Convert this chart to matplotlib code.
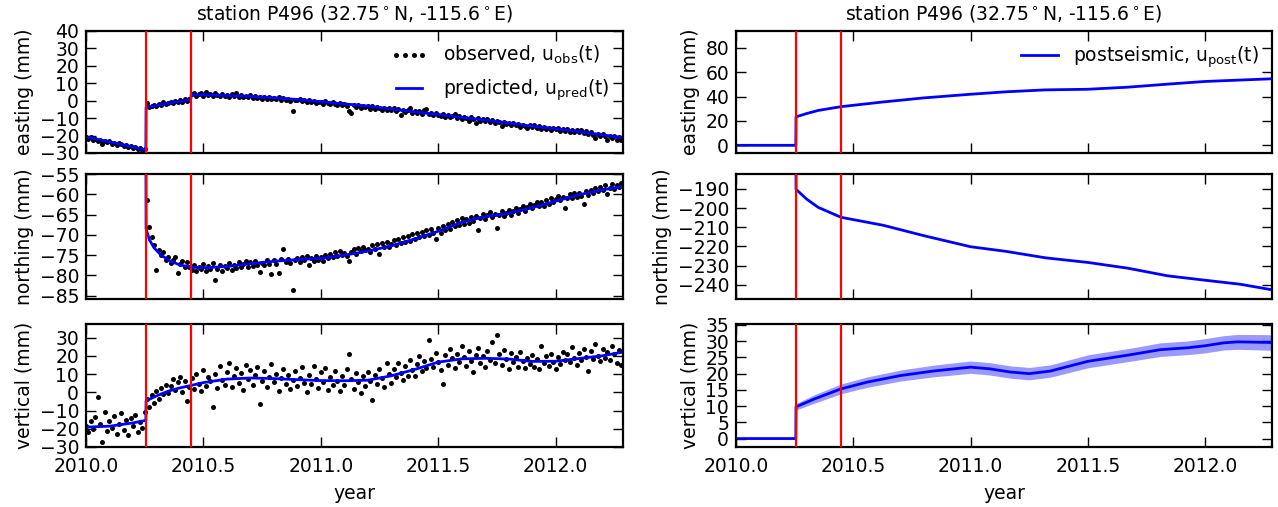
import matplotlib
matplotlib.use("Agg")
import matplotlib.pyplot as plt
import numpy as np
from matplotlib.ticker import FormatStrFormatter

# ---- style (old matplotlib look) ----
plt.rcParams.update({
    "font.family": "DejaVu Sans",
    "font.size": 13.5,
    "axes.linewidth": 1.6,
    "xtick.direction": "in",
    "ytick.direction": "in",
    "xtick.top": True,
    "ytick.right": True,
    "xtick.major.size": 7,
    "ytick.major.size": 7,
    "xtick.major.width": 1.0,
    "ytick.major.width": 1.0,
    "xtick.major.pad": 7,
    "ytick.major.pad": 5,
})

TITLE = r"station P496 (32.75$^\circ$N, -115.6$^\circ$E)"
EVENTS = [2010.255, 2010.448]
XLIM = (2010.0, 2012.285)

# ---- observed epochs (shared by the three components) ----
t_obs = [
    2010.00, 2010.01, 2010.02, 2010.03, 2010.04, 2010.05, 2010.06, 2010.07, 2010.08, 2010.09,
    2010.10, 2010.11, 2010.12, 2010.13, 2010.14, 2010.15, 2010.16, 2010.17, 2010.18, 2010.19,
    2010.20, 2010.21, 2010.22, 2010.23, 2010.24, 2010.25, 2010.26, 2010.27, 2010.28, 2010.29,
    2010.30, 2010.31, 2010.32, 2010.33, 2010.34, 2010.35, 2010.36, 2010.37, 2010.38, 2010.39,
    2010.40, 2010.41, 2010.42, 2010.43, 2010.44, 2010.45, 2010.46, 2010.47, 2010.48, 2010.49,
    2010.50, 2010.51, 2010.52, 2010.53, 2010.54, 2010.55, 2010.56, 2010.57, 2010.58, 2010.59,
    2010.60, 2010.61, 2010.62, 2010.63, 2010.64, 2010.65, 2010.66, 2010.67, 2010.68, 2010.69,
    2010.70, 2010.71, 2010.72, 2010.73, 2010.74, 2010.75, 2010.76, 2010.77, 2010.78, 2010.79,
    2010.80, 2010.81, 2010.82, 2010.83, 2010.84, 2010.85, 2010.86, 2010.87, 2010.88, 2010.89,
    2010.90, 2010.91, 2010.92, 2010.93, 2010.94, 2010.95, 2010.96, 2010.97, 2010.98, 2010.99,
    2011.00, 2011.01, 2011.02, 2011.03, 2011.04, 2011.05, 2011.06, 2011.07, 2011.08, 2011.09,
    2011.10, 2011.11, 2011.12, 2011.13, 2011.14, 2011.15, 2011.16, 2011.17, 2011.18, 2011.19,
    2011.20, 2011.21, 2011.22, 2011.23, 2011.24, 2011.25, 2011.26, 2011.27, 2011.28, 2011.29,
    2011.30, 2011.31, 2011.32, 2011.33, 2011.34, 2011.35, 2011.36, 2011.37, 2011.38, 2011.39,
    2011.40, 2011.41, 2011.42, 2011.43, 2011.44, 2011.45, 2011.46, 2011.47, 2011.48, 2011.49,
    2011.50, 2011.51, 2011.52, 2011.53, 2011.54, 2011.55, 2011.56, 2011.57, 2011.58, 2011.59,
    2011.60, 2011.61, 2011.62, 2011.63, 2011.64, 2011.65, 2011.66, 2011.67, 2011.68, 2011.69,
    2011.70, 2011.71, 2011.72, 2011.73, 2011.74, 2011.75, 2011.76, 2011.77, 2011.78, 2011.79,
    2011.80, 2011.81, 2011.82, 2011.83, 2011.84, 2011.85, 2011.86, 2011.87, 2011.88, 2011.89,
    2011.90, 2011.91, 2011.92, 2011.93, 2011.94, 2011.95, 2011.96, 2011.97, 2011.98, 2011.99,
    2012.00, 2012.01, 2012.02, 2012.03, 2012.04, 2012.05, 2012.06, 2012.07, 2012.08, 2012.09,
    2012.10, 2012.11, 2012.12, 2012.13, 2012.14, 2012.15, 2012.16, 2012.17, 2012.18, 2012.19,
    2012.20, 2012.21, 2012.22, 2012.23, 2012.24, 2012.25, 2012.26, 2012.27, 2012.28,
]

east_obs = [
    -21.0, -21.8, -20.9, -22.5, -22.0, -23.4, -22.3, -24.9, -23.0, -23.9,
    -23.2, -24.6, -24.0, -25.4, -24.3, -25.0, -26.1, -25.2, -26.6, -26.0,
    -27.1, -26.4, -27.6, -27.0, -28.4, -27.8, -1.2, -3.5, -3.0, -2.2,
    -2.9, -1.6, -2.4, -1.0, -1.9, -1.2, -0.5, -1.4, -0.2, -0.9,
    0.3, -0.6, 0.8, 0.1, 1.2, 3.9, 4.6, 2.8, 3.6, 4.2,
    2.9, 4.8, 3.1, 3.9, 2.6, 4.4, 3.3, 2.5, 3.8, 2.9,
    3.5, 2.2, 3.9, 2.7, 4.5, 2.3, 3.1, 1.9, 2.8, 2.0,
    3.0, 1.8, 2.6, 1.5, 2.3, 1.2, 2.0, 0.9, 1.9, 1.1,
    1.6, 0.8, 2.1, 0.5, 1.4, 0.3, 1.0, -0.1, -5.8, 0.6,
    0.2, 1.1, -0.4, 0.5, -0.7, 0.3, -1.0, -0.2, -1.3, -0.5,
    -0.9, -1.7, -0.3, -1.4, -2.0, -0.8, -1.9, -2.6, -1.2, -2.3,
    -1.6, -3.0, -5.9, -7.0, -2.2, -3.4, -2.5, -4.1, -2.9, -3.6,
    -3.0, -4.5, -3.3, -5.0, -3.8, -4.4, -5.6, -3.9, -5.1, -4.3,
    -5.4, -4.2, -6.0, -4.8, -8.3, -5.2, -6.4, -5.5, -3.9, -6.8,
    -5.9, -7.2, -6.1, -7.5, -5.6, -4.8, -7.8, -6.9, -8.4, -7.3,
    -8.0, -8.9, -7.4, -9.2, -8.1, -9.6, -8.5, -7.6, -9.9, -8.8,
    -10.3, -9.1, -10.0, -11.4, -9.6, -10.7, -12.6, -10.2, -11.5, -10.6,
    -11.8, -10.5, -12.2, -11.0, -13.0, -11.7, -12.4, -14.6, -12.1, -13.3,
    -12.6, -13.9, -12.9, -14.2, -13.3, -15.0, -13.7, -14.5, -15.6, -14.0,
    -15.3, -14.1, -15.9, -14.6, -16.2, -15.0, -16.4, -15.4, -17.0, -15.7,
    -16.5, -15.4, -17.1, -16.0, -17.4, -16.3, -17.8, -16.7, -18.2, -17.0,
    -18.0, -16.9, -18.7, -17.6, -19.1, -18.0, -19.4, -21.6, -19.3, -20.2,
    -19.0, -20.5, -22.5, -20.1, -21.2, -20.3, -22.4, -21.0, -22.6,
]

# northing is only visible after the earthquake (starts at 2010.26)
north_obs = [
    -61.5, -68.0, -70.6, -72.4,
    -78.6, -73.8, -75.0, -74.3, -76.2, -75.5, -77.0, -76.1, -75.4, -79.5,
    -77.2, -76.4, -78.0, -76.8, -77.9, -78.6, -77.3, -79.0, -77.8, -78.4,
    -77.2, -78.9, -77.6, -78.3, -77.0, -81.2, -78.5, -77.4, -78.8, -77.6,
    -78.2, -76.9, -78.6, -77.5, -78.1, -76.8, -78.0, -77.2, -76.5, -77.8,
    -76.7, -77.6, -76.4, -77.3, -79.2, -76.9, -77.5, -76.2, -77.1, -79.6,
    -76.3, -77.2, -79.3, -76.0, -73.6, -76.8, -75.9, -77.0, -83.7, -76.2,
    -75.7, -76.6, -75.4, -76.3, -75.1, -77.4, -75.8, -76.5, -75.3, -76.1,
    -75.5, -76.4, -74.9, -75.8, -74.6, -75.5, -74.3, -75.2, -74.0, -74.9,
    -74.4, -75.3, -76.4, -74.1, -73.5, -74.6, -73.2, -74.0, -72.9, -73.8,
    -73.4, -74.3, -72.6, -73.5, -72.3, -74.6, -72.0, -72.9, -71.7, -73.0,
    -72.2, -71.3, -72.6, -71.0, -71.9, -70.6, -71.7, -70.3, -71.4, -69.8,
    -70.9, -69.6, -70.5, -69.2, -70.3, -68.8, -70.0, -68.5, -69.6, -71.0,
    -68.4, -69.5, -67.8, -68.9, -67.3, -68.6, -66.9, -67.9, -66.4, -67.5,
    -65.9, -67.2, -66.0, -67.0, -65.6, -66.5, -65.3, -68.7, -65.8, -64.9,
    -66.1, -65.2, -64.4, -65.6, -64.8, -68.3, -65.0, -64.1, -65.3, -64.5,
    -63.9, -65.0, -64.2, -63.4, -64.6, -63.6, -62.9, -64.0, -63.1, -62.4,
    -63.5, -62.6, -61.8, -62.9, -61.9, -62.8, -61.4, -62.3, -61.0, -62.0,
    -61.2, -60.4, -61.5, -60.6, -63.3, -60.9, -60.0, -61.0, -59.8, -60.6,
    -59.6, -60.4, -62.5, -59.2, -60.1, -58.9, -59.7, -58.5, -59.3, -58.2,
    -59.0, -57.8, -60.0, -58.4, -57.4, -58.6, -57.6, -58.3, -57.2,
]

vert_obs = [
    -18.5, -22.0, -15.6, -20.4, -13.8, -2.6, -17.2, -27.5, -11.0, -21.3,
    -16.0, -19.8, -13.2, -22.8, -17.5, -11.5, -20.6, -15.3, -23.5, -14.1,
    -18.7, -12.6, -21.9, -16.2, -19.4, -10.8, -3.5, -8.2, -1.5, -6.0,
    0.8, -3.9, 2.6, -1.2, 4.0, -0.3, 3.2, 7.5, 1.0, 5.4,
    8.6, 0.4, 6.2, -4.8, 3.0, 7.9, 1.8, 10.2, 4.6, 0.9,
    12.0, 3.5, 8.1, 5.9, -8.2, 9.8, 2.2, 14.4, 6.7, 4.0,
    11.3, 16.0, 3.1, 8.9, 13.5, 5.2, 10.6, 1.4, 15.2, 7.4,
    12.4, 4.1, 9.5, 14.1, -6.3, 6.0, 11.8, 2.9, 8.3, 15.6,
    5.7, 10.1, 0.6, 7.8, 12.9, 4.4, 9.2, 1.9, 6.6, 11.4,
    3.3, 8.0, 13.6, 5.0, 0.2, 9.7, 4.6, 14.5, 7.1, 2.4,
    10.9, 5.6, 13.2, 1.5, 8.4, 3.8, 11.7, 6.3, 0.8, 9.1,
    4.2, 12.5, 21.1, 7.0, 2.0, 10.4, 5.5, -0.5, 8.8, 3.6,
    11.1, 6.1, -4.3, 9.4, 4.7, 13.0, 7.6, 2.8, 15.8, 9.9,
    5.0, 12.7, 8.2, 16.1, 10.5, 6.8, 14.6, 9.0, 17.4, 12.1,
    8.7, 15.3, 19.6, 11.6, 16.9, 13.4, 28.9, 18.1, 14.0, 21.5,
    16.4, 12.3, 4.5, 20.2, 15.1, 23.8, 18.7, 13.1, 21.0, 16.6,
    25.3, 19.2, 14.3, 22.4, 17.0, 11.2, 20.5, 24.2, 15.9, 19.9,
    13.7, 22.8, 17.8, 27.6, 16.2, 31.3, 20.8, 14.8, 23.1, 18.4,
    12.9, 21.7, 16.7, 19.5, 14.1, 22.0, 17.3, 13.5, 19.0, 15.4,
    20.4, 13.9, 18.2, 12.6, 25.4, 16.0, 19.7, 14.6, 21.2, 16.8,
    13.0, 19.3, 15.7, 22.3, 17.6, 20.9, 16.4, 24.6, 18.9, 15.2,
    21.6, 17.8, 23.5, 19.5, 11.9, 22.7, 18.3, 26.7, 20.1, 16.9,
    23.9, 19.0, 22.2, 17.6, 25.1, 20.7, 16.3, 23.4, 14.9,
]

# ---- predicted (left column) ----
t_pred_e = [2010.0, 2010.1, 2010.2, 2010.255, 2010.256, 2010.3, 2010.35, 2010.4, 2010.446,
            2010.448, 2010.5, 2010.6, 2010.7, 2010.8, 2010.9, 2011.0, 2011.1, 2011.2, 2011.3,
            2011.4, 2011.5, 2011.6, 2011.7, 2011.8, 2011.9, 2012.0, 2012.1, 2012.2, 2012.285]
east_pred = [-20.8, -23.6, -26.5, -28.3, -3.8, -2.7, -1.5, -0.3, 0.6,
             3.3, 3.4, 3.0, 2.5, 1.7, 0.7, -0.6, -1.8, -3.1, -4.7,
             -6.4, -7.9, -9.6, -11.1, -12.8, -14.7, -16.0, -17.7, -19.6, -21.3]

t_pred_n = [2010.0, 2010.255, 2010.256, 2010.27, 2010.29, 2010.32, 2010.36, 2010.40, 2010.45,
            2010.5, 2010.6, 2010.7, 2010.8, 2010.9, 2011.0, 2011.1, 2011.2, 2011.3, 2011.4,
            2011.5, 2011.6, 2011.7, 2011.8, 2011.9, 2012.0, 2012.1, 2012.2, 2012.285]
north_pred = [-40.0, -40.0, -68.5, -71.2, -73.2, -75.0, -76.5, -77.4, -78.0,
              -78.1, -77.8, -77.1, -76.5, -76.1, -75.8, -75.0, -74.0, -72.7, -71.0,
              -69.1, -66.9, -65.5, -64.7, -63.3, -61.7, -60.1, -58.9, -58.1]

t_pred_u = [2010.0, 2010.1, 2010.2, 2010.255, 2010.256, 2010.3, 2010.35, 2010.4, 2010.45,
            2010.5, 2010.6, 2010.7, 2010.8, 2010.9, 2011.0, 2011.1, 2011.2, 2011.3, 2011.4,
            2011.5, 2011.6, 2011.7, 2011.8, 2011.9, 2012.0, 2012.1, 2012.2, 2012.285]
vert_pred = [-19.1, -18.6, -16.8, -15.4, -4.7, -2.0, 0.6, 2.4, 3.8,
             5.3, 7.2, 7.8, 7.5, 6.9, 6.4, 6.3, 6.6, 9.0, 12.5,
             16.5, 18.3, 18.6, 18.2, 16.9, 17.0, 18.5, 20.0, 22.0]

# ---- postseismic (right column) ----
t_post_e = [2010.0, 2010.255, 2010.256, 2010.3, 2010.35, 2010.447, 2010.628, 2010.8, 2011.0,
            2011.15, 2011.32, 2011.5, 2011.67, 2011.84, 2012.0, 2012.285]
east_post = [0.0, 0.0, 23.4, 26.0, 28.6, 31.7, 35.6, 38.9, 41.9,
             43.9, 45.5, 46.0, 47.7, 50.2, 52.4, 54.6]

t_post_n = [2010.0, 2010.255, 2010.256, 2010.30, 2010.35, 2010.447, 2010.628, 2010.8, 2011.0,
            2011.15, 2011.32, 2011.5, 2011.67, 2011.84, 2012.0, 2012.15, 2012.285]
north_post = [0.0, 0.0, -190.2, -195.2, -199.6, -204.8, -209.0, -214.4, -220.2,
              -222.6, -226.0, -228.4, -231.4, -235.4, -237.7, -239.8, -242.7]

t_post_u = [2010.0, 2010.255, 2010.256, 2010.334, 2010.447, 2010.56, 2010.70, 2010.84, 2011.0,
            2011.08, 2011.17, 2011.25, 2011.34, 2011.5, 2011.67, 2011.81, 2011.93, 2012.0,
            2012.08, 2012.14, 2012.285]
vert_post = [0.0, 0.0, 9.8, 12.2, 15.3, 17.4, 19.4, 20.8, 22.0,
             21.5, 20.5, 20.0, 20.8, 23.8, 25.7, 27.4, 28.0, 28.6,
             29.5, 29.8, 29.6]
vert_post_sd = [0.0, 0.0, 1.0, 1.3, 1.5, 1.6, 1.7, 1.8, 1.9,
                1.9, 1.9, 1.9, 1.9, 2.0, 2.0, 2.1, 2.1, 2.2,
                2.2, 2.3, 2.4]

# ---- figure ----
W, H = 1278, 507
fig = plt.figure(figsize=(W / 100, H / 100), dpi=100, facecolor="white")


def box(x0, x1, y0, y1):
    return [x0 / W, 1 - y1 / H, (x1 - x0) / W, (y1 - y0) / H]


rows = [(31, 153), (174, 299), (324, 447)]
left = [fig.add_axes(box(86, 622.5, *r)) for r in rows]
right = [fig.add_axes(box(736, 1272, *r)) for r in rows]

t_north = [t for t in t_obs if t > EVENTS[0]]

obs_sets = [(t_obs, east_obs), (t_north, north_obs), (t_obs, vert_obs)]
pred_sets = [(t_pred_e, east_pred), (t_pred_n, north_pred), (t_pred_u, vert_pred)]
post_sets = [(t_post_e, east_post), (t_post_n, north_post), (t_post_u, vert_post)]
ylabels = ["easting (mm)", "northing (mm)", "vertical (mm)"]
left_ylim = [(-30, 40), (-85.8, -55), (-30, 37.4)]
left_yticks = [np.arange(-30, 41, 10), np.arange(-85, -54, 5), np.arange(-30, 31, 10)]
right_ylim = [(-6.3, 93.8), (-247.5, -182.2), (-2.6, 35.3)]
right_yticks = [np.arange(0, 81, 20), np.arange(-240, -189, 10), np.arange(0, 36, 5)]

for i in range(3):
    ax = left[i]
    t, y = obs_sets[i]
    ax.plot(t, y, "o", color="k", ms=3.6, mec="k", mew=0,
            label=r"observed, $\mathregular{u_{obs}}$(t)")
    tp, yp = pred_sets[i]
    ax.plot(tp, yp, "-", color="b", lw=2.0, label=r"predicted, $\mathregular{u_{pred}}$(t)")
    ax.set_ylim(*left_ylim[i])
    ax.set_yticks(left_yticks[i])
    ax.set_ylabel(ylabels[i])

    ax = right[i]
    tq, yq = post_sets[i]
    ax.plot(tq, yq, "-", color="b", lw=2.0, label=r"postseismic, $\mathregular{u_{post}}$(t)")
    ax.set_ylim(*right_ylim[i])
    ax.set_yticks(right_yticks[i])
    ax.set_ylabel(ylabels[i])

# uncertainty band on the vertical postseismic curve
tu = np.array(t_post_u)
vu = np.array(vert_post)
su = np.array(vert_post_sd)
post_mask = tu > EVENTS[0]
right[2].fill_between(tu[post_mask], (vu - su)[post_mask], (vu + su)[post_mask],
                      color="b", alpha=0.4, lw=0)

for ax in left + right:
    for ev in EVENTS:
        ax.axvline(ev, color="r", lw=1.6, zorder=5)
    ax.set_xlim(*XLIM)
    ax.set_xticks([2010.0, 2010.5, 2011.0, 2011.5, 2012.0])
    ax.xaxis.set_major_formatter(FormatStrFormatter("%.1f"))

for ax in (left[0], left[1], right[0], right[1]):
    ax.tick_params(labelbottom=False)

for ax in (left[2], right[2]):
    ax.set_xlabel("year", labelpad=6)

left[0].set_title(TITLE, fontsize=13.5, pad=8)
right[0].set_title(TITLE, fontsize=13.5, pad=8)

left[0].legend(loc="upper right", frameon=False, numpoints=4, fontsize=13.5,
               handlelength=2.0, borderaxespad=0.3, labelspacing=0.6)
right[0].legend(loc="upper right", frameon=False, fontsize=13.5,
                handlelength=2.0, borderaxespad=0.3)

fig.savefig("out.png", dpi=100, facecolor="white")
